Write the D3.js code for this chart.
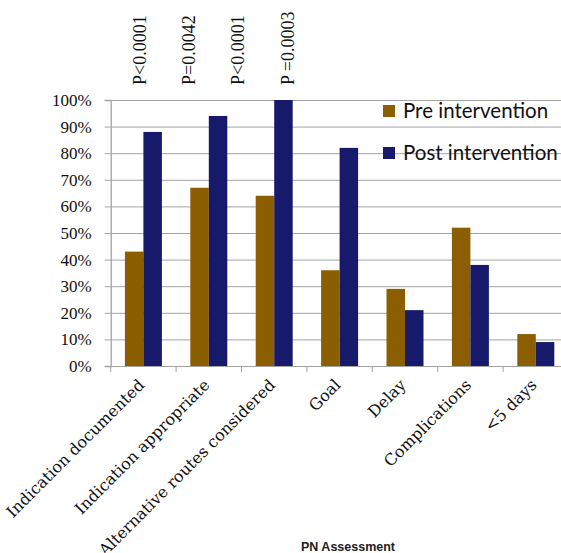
<!DOCTYPE html>
<html>
<head>
<meta charset="utf-8">
<script src="https://cdn.jsdelivr.net/npm/d3@7"></script>
<style>
  html, body { margin: 0; padding: 0; background: #fff; }
  svg { display: block; }
</style>
</head>
<body>
<svg id="chart" width="561" height="553"></svg>
<script>
// PN assessment: share of patients meeting each criterion, before and after the intervention
const categories = [
  "Indication documented",
  "Indication appropriate",
  "Alternative routes considered",
  "Goal",
  "Delay",
  "Complications",
  "<5 days"
];
const seriesNames = ["Pre intervention", "Post intervention"];
const preValues  = [43, 67, 64, 36, 29, 52, 12];
const postValues = [88, 94, 100, 82, 21, 38, 9];
const seriesColors = ["#8c5e02", "#171a6a"];
const yTicks = [0, 10, 20, 30, 40, 50, 60, 70, 80, 90, 100];
const pLabels = ["P<0.0001", "P=0.0042", "P<0.0001", "P =0.0003"];
const xTitle = "PN Assessment";

const rows = categories.map((c, i) => ({ category: c, values: [preValues[i], postValues[i]] }));

const svg = d3.select("#chart");
const plotLeft = 110.7, plotRight = 568.5, plotTop = 100, plotBottom = 366;

const x0 = d3.scaleBand().domain(categories).range([plotLeft, plotRight]).padding(0);
const x1 = d3.scaleBand().domain([0, 1]).range([0, x0.bandwidth()]).paddingInner(0).paddingOuter(0.768);
const y = d3.scaleLinear().domain([0, 100]).range([plotBottom, plotTop]);

const serif = "'Liberation Serif', 'Times New Roman', serif";
const labelSerif = "'DejaVu Serif', serif";

// horizontal gridlines
svg.append("g")
  .selectAll("line")
  .data(yTicks)
  .join("line")
  .attr("x1", plotLeft).attr("x2", 561)
  .attr("y1", d => y(d) + 0.5).attr("y2", d => y(d) + 0.5)
  .attr("stroke", "#a3a3a3").attr("stroke-width", 1);

// y axis
const yAxis = svg.append("g")
  .attr("transform", `translate(${plotLeft},0)`)
  .call(d3.axisLeft(y).tickValues(yTicks).tickFormat(d => d + "%").tickSize(6).tickPadding(13));
yAxis.select(".domain").attr("stroke", "#a3a3a3").attr("stroke-width", 1.3);
yAxis.selectAll(".tick line").attr("stroke", "#a3a3a3");
yAxis.selectAll(".tick text")
  .attr("font-family", serif).attr("font-size", 17).attr("fill", "#111");

// x axis ticks at category boundaries
const xAxis = svg.append("g").attr("transform", `translate(0,${plotBottom})`);
xAxis.selectAll("line")
  .data(categories.map(c => x0(c)))
  .join("line")
  .attr("x1", d => d).attr("x2", d => d)
  .attr("y1", 0).attr("y2", 6)
  .attr("stroke", "#a3a3a3").attr("stroke-width", 1);

// bars
const groups = svg.append("g")
  .selectAll("g")
  .data(rows)
  .join("g")
  .attr("transform", d => `translate(${x0(d.category)},0)`);
groups.selectAll("rect")
  .data(d => d.values.map((v, s) => ({ v, s })))
  .join("rect")
  .attr("x", d => x1(d.s))
  .attr("width", x1.bandwidth())
  .attr("y", d => y(d.v))
  .attr("height", d => y(0) - y(d.v))
  .attr("fill", d => seriesColors[d.s]);

// category labels, slanted
svg.append("g")
  .selectAll("text")
  .data(categories)
  .join("text")
  .attr("transform", d => `translate(${x0(d) + x0.bandwidth() / 2 + 2},${plotBottom + 20}) rotate(-45)`)
  .attr("text-anchor", "end")
  .attr("font-family", labelSerif)
  .attr("font-size", 16)
  .attr("fill", "#111")
  .text(d => d);

// significance labels above the first four groups
const pX = d3.scalePoint().domain(d3.range(pLabels.length)).range([145.5, 293.5]);
svg.append("g")
  .selectAll("text")
  .data(pLabels)
  .join("text")
  .attr("transform", (d, i) => `translate(${pX(i)},85) rotate(-90)`)
  .attr("text-anchor", "start")
  .attr("font-family", serif)
  .attr("font-size", 18)
  .attr("fill", "#111")
  .text(d => d);

// legend
const legend = svg.append("g")
  .selectAll("g")
  .data(seriesNames)
  .join("g")
  .attr("transform", (d, i) => `translate(383,${105 + i * 42})`);
legend.append("rect")
  .attr("width", 12).attr("height", 12)
  .attr("fill", (d, i) => seriesColors[i]);
legend.append("text")
  .attr("x", 20).attr("y", 13)
  .attr("font-family", "Lato, 'Open Sans', sans-serif")
  .attr("font-size", 20.5)
  .attr("fill", "#111")
  .text(d => d);

// axis title
svg.append("text")
  .attr("x", 348).attr("y", 551)
  .attr("text-anchor", "middle")
  .attr("font-family", "'Liberation Sans', Arial, sans-serif")
  .attr("font-weight", "bold")
  .attr("font-size", 12.5)
  .attr("fill", "#222")
  .text(xTitle);
</script>
</body>
</html>
